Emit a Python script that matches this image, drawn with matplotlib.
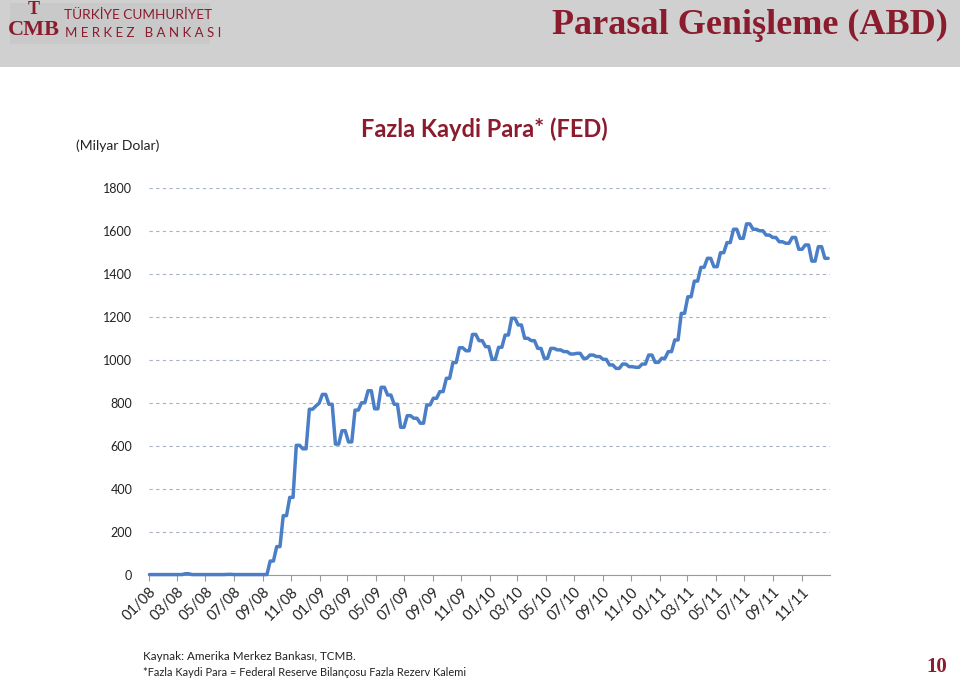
import matplotlib
matplotlib.use("Agg")
import matplotlib.pyplot as plt
from matplotlib.patches import Rectangle
import pandas as pd

# ---------------- data ----------------
start_date = "2008-01-02"          # first weekly observation
values = [
    2, 2, 2, 2, 2, 2, 2, 2, 2, 2, 2, 6, 6, 2, 2, 2, 2, 2, 2, 2, 2, 2, 2, 2,
    3, 3, 2, 2, 2, 2, 2, 2, 2, 2, 2, 2, 2,
    65, 65, 132, 132, 276, 276, 361, 361, 603, 603, 587, 587, 771, 771, 786, 799,
    840, 840, 794, 794, 609, 609, 671, 671, 619, 619, 767, 767, 801, 801,
    857, 857, 773, 773, 873, 873, 837, 837, 794, 794, 687, 687, 741, 741,
    729, 729, 706, 706, 791, 791, 822, 822, 853, 853, 915, 915, 988, 988,
    1057, 1057, 1043, 1043, 1119, 1119, 1090, 1090, 1062, 1062, 1003, 1003,
    1059, 1059, 1116, 1116, 1194, 1194, 1163, 1163, 1101, 1101, 1090, 1090,
    1054, 1054, 1008, 1008, 1054, 1054, 1047, 1047, 1039, 1039, 1028, 1028,
    1031, 1031, 1008, 1008, 1023, 1023, 1016, 1016, 1003, 1003, 977, 977,
    961, 961, 981, 981, 969, 969, 966, 966, 981, 981, 1023, 1023, 989, 989,
    1008, 1008, 1039, 1039, 1093, 1093, 1217, 1217, 1294, 1294, 1367, 1367,
    1431, 1431, 1473, 1473, 1434, 1434, 1499, 1499, 1546, 1546, 1608, 1608,
    1566, 1566, 1633, 1633, 1608, 1608, 1601, 1601, 1581, 1581, 1570, 1570,
    1550, 1550, 1543, 1543, 1570, 1570, 1515, 1515, 1535, 1535, 1460, 1460,
    1527, 1527, 1473, 1473,
]
tick_labels = ["01/08", "03/08", "05/08", "07/08", "09/08", "11/08",
               "01/09", "03/09", "05/09", "07/09", "09/09", "11/09",
               "01/10", "03/10", "05/10", "07/10", "09/10", "11/10",
               "01/11", "03/11", "05/11", "07/11", "09/11", "11/11"]
y_ticks = [0, 200, 400, 600, 800, 1000, 1200, 1400, 1600, 1800]

dates = pd.date_range(start_date, periods=len(values), freq="7D")
tick_dates = pd.to_datetime(["20" + l[3:] + "-" + l[:2] + "-01" for l in tick_labels])

# ---------------- style ----------------
W, H = 960, 679
DARK_RED = "#8A1C2E"
LINE = "#4A7EC6"
SANS = ["Lato", "DejaVu Sans"]

fig = plt.figure(figsize=(W / 100, H / 100), dpi=100)
fig.patch.set_facecolor("white")

def fx(x):
    return x / W

def fy(y):
    return 1 - y / H

# header band
fig.patches.append(Rectangle((0, fy(67)), 1, 67 / H, transform=fig.transFigure,
                             facecolor="#D0D0D0", edgecolor="none", zorder=0))
# logo block
fig.patches.append(Rectangle((fx(10), fy(44)), 200 / W, 41 / H, transform=fig.transFigure,
                             facecolor="#C9C9C9", edgecolor="none", zorder=1))
fig.text(fx(34), fy(9), "T", fontsize=13, fontweight="bold", color=DARK_RED,
         family="Liberation Serif", ha="center", va="center")
fig.text(fx(34), fy(30), "CMB", fontsize=16, fontweight="bold", color=DARK_RED,
         family="Liberation Serif", ha="center", va="center")
fig.text(fx(64), fy(15), "TÜRKİYE CUMHURİYET", fontsize=9.8, color=DARK_RED,
         family=SANS, ha="left", va="center")
fig.text(fx(65), fy(33), "M E R K E Z   B A N K A S I", fontsize=9.5, color=DARK_RED,
         family=SANS, ha="left", va="center")
# slide title
fig.text(fx(948), fy(25), "Parasal Genişleme (ABD)", fontsize=26, fontweight="bold",
         color=DARK_RED, family="Liberation Serif", ha="right", va="center")

# chart title & unit
fig.text(fx(484), fy(129), "Fazla Kaydi Para* (FED)", fontsize=17, color=DARK_RED,
         family=SANS, fontweight="bold", ha="center", va="center")
fig.text(fx(118), fy(146), "(Milyar Dolar)", fontsize=10, color="#222222",
         family=SANS, ha="center", va="center")

# axes
ax = fig.add_axes([fx(149), fy(575), (830 - 149) / W, (575 - 188) / H])
ax.plot(dates, values, color=LINE, linewidth=2.5, solid_joinstyle="round",
        solid_capstyle="round", zorder=3, clip_on=False)
ax.set_xlim(pd.Timestamp("2008-01-01"), pd.Timestamp("2012-01-01"))
ax.set_ylim(0, 1800)
ax.set_yticks(y_ticks)
ax.set_yticklabels([str(v) for v in y_ticks], family=SANS, fontsize=9, color="#222222")
ax.yaxis.grid(True, linestyle=(0, (3, 3)), color="#A8B4C4", linewidth=0.8)
ax.set_axisbelow(True)
ax.tick_params(axis="y", length=0, pad=12)
ax.set_xticks(tick_dates)
ax.set_xticklabels(tick_labels, rotation=45, ha="right", rotation_mode="anchor",
                   family=SANS, fontsize=10.5, color="#222222")
ax.tick_params(axis="x", length=4, color="#9A9A9A", width=0.8, pad=3)
for s in ["top", "right", "left"]:
    ax.spines[s].set_visible(False)
ax.spines["bottom"].set_color("#9A9A9A")
ax.spines["bottom"].set_linewidth(0.8)
ax.set_facecolor("none")

# footnotes
fig.text(fx(143), fy(657), "Kaynak: Amerika Merkez Bankası, TCMB.", fontsize=8.4,
         color="#222222", family=SANS, ha="left", va="center")
fig.text(fx(143), fy(673), "*Fazla Kaydi Para = Federal Reserve Bilançosu Fazla Rezerv Kalemi",
         fontsize=7.9, color="#222222", family=SANS, ha="left", va="center")
fig.text(fx(937), fy(667), "10", fontsize=15, fontweight="bold", color=DARK_RED,
         family="Liberation Serif", ha="center", va="center")

fig.savefig("out.png", dpi=100)
